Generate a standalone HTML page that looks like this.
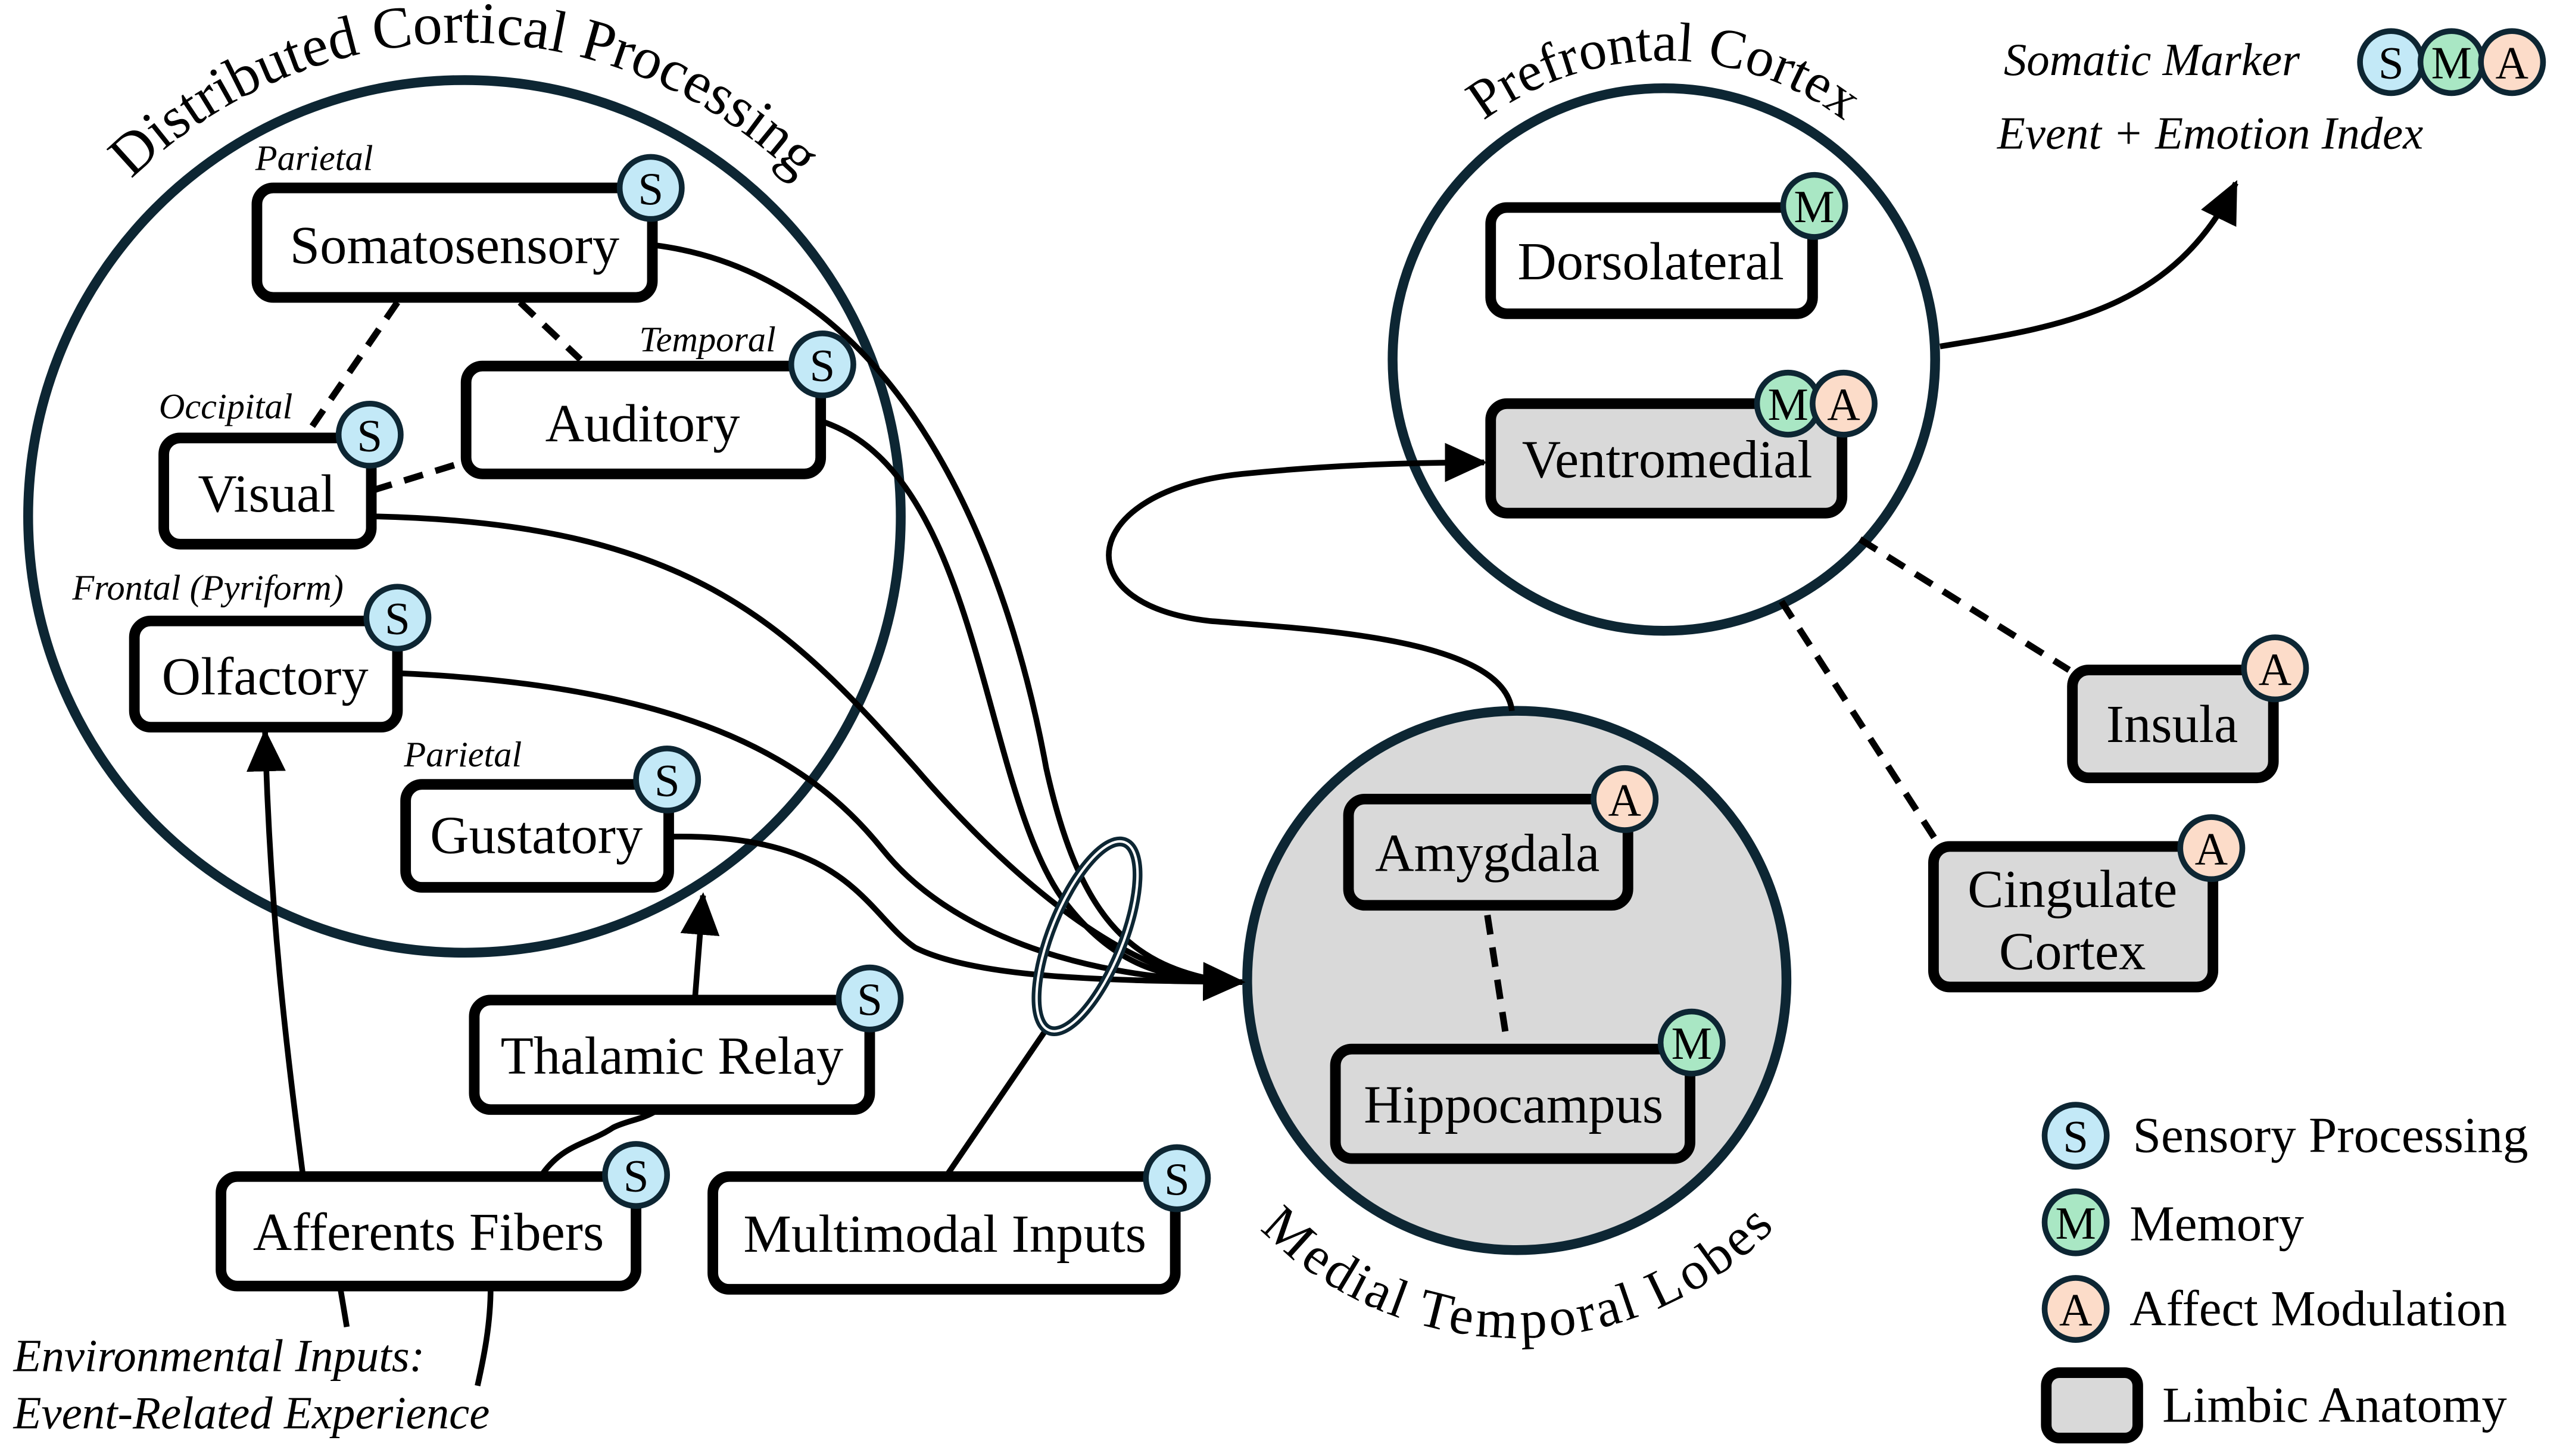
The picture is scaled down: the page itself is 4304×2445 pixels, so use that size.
<!DOCTYPE html>
<html><head><meta charset="utf-8"><style>html,body{margin:0;padding:0;background:#fff}svg{display:block}</style></head>
<body>
<svg width="4304" height="2445" viewBox="0 0 1568 891" xmlns="http://www.w3.org/2000/svg" style="font-family:'Liberation Serif','Times New Roman',serif">
<defs>
<marker id="ahb" markerWidth="26" markerHeight="24" refX="24" refY="12" orient="auto" markerUnits="userSpaceOnUse"><path d="M0,0 L26,12 L0,24 z" fill="#000"/></marker>
<path id="arcL" d="M -6,316 A 290 290 0 0 1 574,316"/>
<path id="arcP" d="M 835,220 A 183 183 0 0 1 1201,220"/>
<path id="arcM" d="M 733,600 A 195 195 0 0 0 1123,600"/>
</defs>

<circle cx="284" cy="316" r="267" fill="none" stroke="#0d2633" stroke-width="6"/>
<circle cx="1018" cy="220" r="166" fill="none" stroke="#0d2633" stroke-width="6"/>
<circle cx="928" cy="600" r="165" fill="#d9d9d9" stroke="#0d2633" stroke-width="6"/>

<text font-size="36" fill="#000"><textPath href="#arcL" startOffset="50%" text-anchor="middle">Distributed Cortical Processing</textPath></text>
<text font-size="34" fill="#000"><textPath href="#arcP" startOffset="50%" text-anchor="middle">Prefrontal Cortex</textPath></text>
<text font-size="33" fill="#000" dominant-baseline="hanging"><textPath href="#arcM" startOffset="50%" text-anchor="middle">Medial Temporal Lobes</textPath></text>

<g stroke="#000" stroke-width="4" stroke-dasharray="12,8" fill="none">
<line x1="243" y1="185" x2="188" y2="265"/>
<line x1="318" y1="185" x2="355" y2="220"/>
<line x1="228" y1="300" x2="283" y2="283"/>
<line x1="910" y1="560" x2="922" y2="638"/>
<line x1="1138" y1="330" x2="1266" y2="410"/>
<line x1="1090" y1="368" x2="1185" y2="515"/>
</g>

<g stroke="#000" stroke-width="3.5" fill="none">
<path d="M400,150 C560,170 620,360 640,470 C660,560 690,590 745,600"/>
<path d="M503,258 C600,290 600,480 650,550 C680,590 710,598 745,600"/>
<path d="M228,316 C420,320 480,380 560,470 C620,540 690,596 745,600"/>
<path d="M244,412 C430,420 500,470 540,520 C580,570 660,598 745,600"/>
<path d="M410,512 C520,510 530,560 560,580 C600,600 690,600 760,601" marker-end="url(#ahb)"/>
<path d="M580,718 L640,630"/>
<path d="M925,435 C920,390 800,385 740,380 C650,370 660,300 760,290 C820,284 870,283 908,283" marker-end="url(#ahb)"/>
<path d="M1187,212 C1260,200 1330,190 1368,112" marker-end="url(#ahb)"/>
<path d="M185,718 C175,640 165,560 162,448" marker-end="url(#ahb)"/>
<path d="M332,718 C345,700 360,700 375,690 C395,680 420,690 425,612 L430,548" marker-end="url(#ahb)"/>
<path d="M208,788 L212,812"/>
<path d="M300,788 C300,810 296,830 292,848"/>
</g>
<ellipse cx="665" cy="573" rx="22" ry="62" transform="rotate(22 665 573)" fill="none" stroke="#0d2633" stroke-width="6"/>
<ellipse cx="665" cy="573" rx="22" ry="62" transform="rotate(22 665 573)" fill="none" stroke="#fff" stroke-width="1.5"/>

<g stroke="#000" stroke-width="6.5">
<rect x="157" y="115" width="242" height="67" rx="10" fill="#fff"/>
<rect x="285" y="224" width="217" height="66" rx="10" fill="#fff"/>
<rect x="100" y="268" width="127" height="65" rx="10" fill="#fff"/>
<rect x="82" y="380" width="161" height="65" rx="10" fill="#fff"/>
<rect x="248" y="480" width="161" height="63" rx="10" fill="#fff"/>
<rect x="290" y="612" width="242" height="67" rx="10" fill="#fff"/>
<rect x="135" y="720" width="254" height="67" rx="10" fill="#fff"/>
<rect x="436" y="720" width="283" height="69" rx="10" fill="#fff"/>
<rect x="825" y="489" width="171" height="65" rx="10" fill="#d9d9d9"/>
<rect x="817" y="642" width="217" height="67" rx="10" fill="#d9d9d9"/>
<rect x="912" y="127" width="197" height="65" rx="10" fill="#fff"/>
<rect x="912" y="247" width="215" height="67" rx="10" fill="#d9d9d9"/>
<rect x="1268" y="410" width="123" height="66" rx="10" fill="#d9d9d9"/>
<rect x="1183" y="518" width="171" height="86" rx="10" fill="#d9d9d9"/>
<rect x="1252" y="840" width="56" height="40" rx="8" fill="#d9d9d9"/>
</g>

<g font-size="33" text-anchor="middle" fill="#000">
<text x="278" y="161">Somatosensory</text>
<text x="393" y="270">Auditory</text>
<text x="163" y="313">Visual</text>
<text x="162" y="425">Olfactory</text>
<text x="328" y="522">Gustatory</text>
<text x="411" y="657">Thalamic Relay</text>
<text x="262" y="765">Afferents Fibers</text>
<text x="578" y="766">Multimodal Inputs</text>
<text x="910" y="533">Amygdala</text>
<text x="926" y="687">Hippocampus</text>
<text x="1010" y="171">Dorsolateral</text>
<text x="1020" y="292">Ventromedial</text>
<text x="1329" y="454">Insula</text>
<text x="1268" y="555">Cingulate</text>
<text x="1268" y="593">Cortex</text>
</g>
<g font-size="31" fill="#000">
<text x="1305" y="705">Sensory Processing</text>
<text x="1303" y="759">Memory</text>
<text x="1303" y="811">Affect Modulation</text>
<text x="1323" y="870">Limbic Anatomy</text>
</g>
<g font-size="22" font-style="italic" fill="#000">
<text x="156" y="104">Parietal</text>
<text x="391" y="215">Temporal</text>
<text x="97" y="256">Occipital</text>
<text x="44" y="367">Frontal (Pyriform)</text>
<text x="247" y="469">Parietal</text>
</g>
<g font-size="28" font-style="italic" fill="#000">
<text x="8" y="839">Environmental Inputs:</text>
<text x="8" y="874">Event-Related Experience</text>
<text x="1226" y="46">Somatic Marker</text>
<text x="1222" y="91">Event + Emotion Index</text>
</g>

<g stroke="#0d2633" stroke-width="3.5" font-size="28" text-anchor="middle">
<g fill="#c3e9f7">
<circle cx="398" cy="115" r="19"/><circle cx="503" cy="223" r="19"/><circle cx="226" cy="266" r="19"/>
<circle cx="243" cy="378" r="19"/><circle cx="408" cy="477" r="19"/><circle cx="532" cy="611" r="19"/>
<circle cx="389" cy="719" r="19"/><circle cx="720" cy="721" r="19"/><circle cx="1463" cy="38" r="19"/><circle cx="1270" cy="695" r="19"/>
</g>
<g fill="#a9e7c4">
<circle cx="1110" cy="126" r="19"/><circle cx="1094" cy="247" r="19"/><circle cx="1035" cy="638" r="19"/>
<circle cx="1500" cy="38" r="19"/><circle cx="1270" cy="748" r="19"/>
</g>
<g fill="#fcdcc9">
<circle cx="1128" cy="247" r="19"/><circle cx="994" cy="489" r="19"/><circle cx="1392" cy="409" r="19"/>
<circle cx="1353" cy="519" r="19"/><circle cx="1537" cy="38" r="19"/><circle cx="1270" cy="801" r="19"/>
</g>
<g stroke="none" fill="#000">
<text x="398" y="125">S</text><text x="503" y="233">S</text><text x="226" y="276">S</text>
<text x="243" y="388">S</text><text x="408" y="487">S</text><text x="532" y="621">S</text>
<text x="389" y="729">S</text><text x="720" y="731">S</text><text x="1463" y="48">S</text><text x="1270" y="705">S</text>
<text x="1110" y="136">M</text><text x="1094" y="257">M</text><text x="1035" y="648">M</text>
<text x="1500" y="48">M</text><text x="1270" y="758">M</text>
<text x="1128" y="257">A</text><text x="994" y="499">A</text><text x="1392" y="419">A</text>
<text x="1353" y="529">A</text><text x="1537" y="48">A</text><text x="1270" y="811">A</text>
</g>
</g>
</svg>
</body></html>
